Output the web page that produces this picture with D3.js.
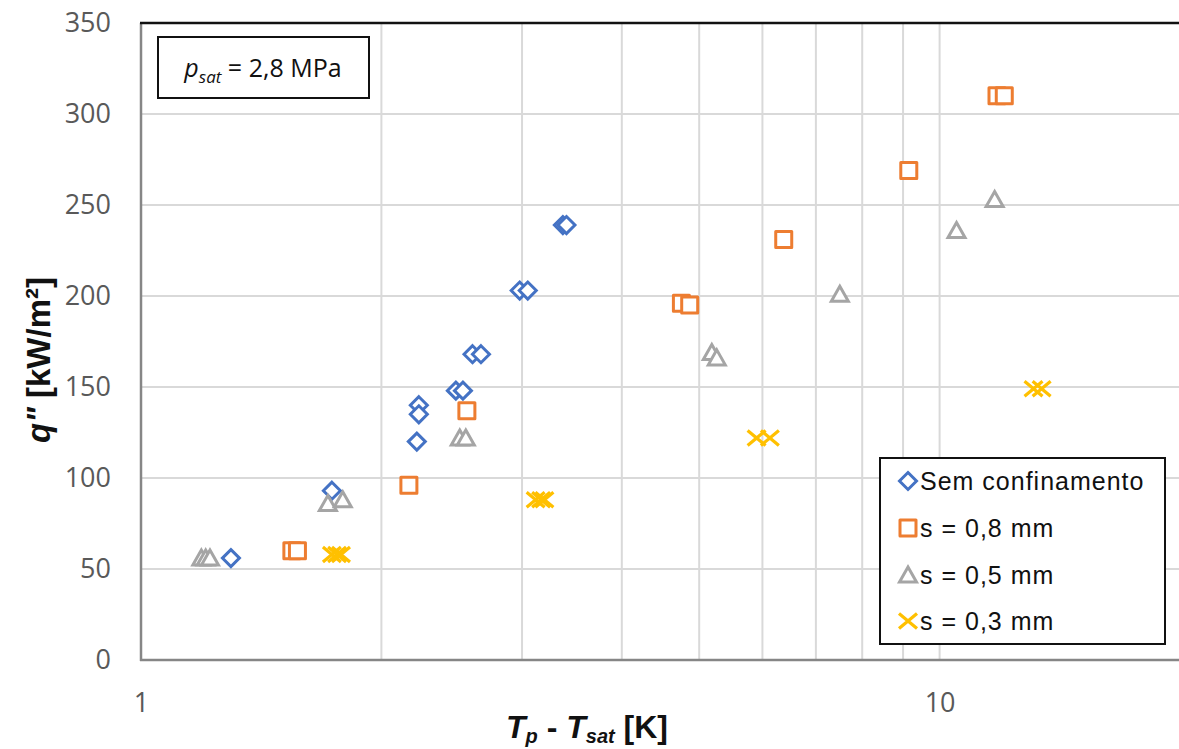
<!DOCTYPE html>
<html><head><meta charset="utf-8">
<script src="https://cdn.jsdelivr.net/npm/d3@7"></script>
<style>
html,body{margin:0;padding:0;background:#fff;}
svg{display:block;}
</style></head>
<body>
<svg id="chart" width="1179" height="749"></svg>
<script>
// ---- data ----
const xTickLabels = [1, 10];
const yTicks = [0, 50, 100, 150, 200, 250, 300, 350];
const seriesNames = ["Sem confinamento", "s = 0,8 mm", "s = 0,5 mm", "s = 0,3 mm"];

const semX = [1.296, 1.734, 2.228, 2.228, 2.215, 2.479, 2.53, 2.601, 2.665, 2.98, 3.05, 3.375, 3.41];
const semY = [56, 93, 140, 135, 120, 148, 148, 168, 168, 203, 203, 239, 239];

const s08X = [1.545, 1.57, 2.165, 2.559, 4.75, 4.865, 6.38, 9.15, 11.8, 12.05];
const s08Y = [60, 60, 96, 137, 196, 195, 231, 269, 310, 310];

const s05X = [1.19, 1.205, 1.22, 1.714, 1.789, 2.507, 2.551, 5.185, 5.26, 7.5, 10.5, 11.72];
const s05Y = [56, 56, 56, 86, 88, 122, 122, 169, 166, 201, 236, 253];

const s03X = [1.734, 1.76, 1.78, 3.12, 3.17, 3.2, 5.9, 6.13, 13.11, 13.42];
const s03Y = [58, 58, 58, 88, 88, 88, 122, 122, 149, 149];

// ---- layout ----
const svg = d3.select("#chart");
const L = 141, R = 1180, T = 23, B = 660;
const x = d3.scaleLog().domain([1, 20]).range([L, R]);
const y = d3.scaleLinear().domain([0, 350]).range([B, T]);

const colors = ["#4472C4", "#ED7D31", "#A5A5A5", "#FFC000"];
const tickFont = "'Open Sans', sans-serif";
const arial = "'Liberation Sans', Arial, sans-serif";
const narrow = "'Liberation Sans Narrow', 'Liberation Sans', Arial, sans-serif";

// grid
const minorVals = [2,3,4,5,6,7,8,9,10,20];
svg.append("g").selectAll("line").data(minorVals).join("line")
  .attr("x1", d => x(d)).attr("x2", d => x(d))
  .attr("y1", T).attr("y2", B)
  .attr("stroke", "#D9D9D9").attr("stroke-width", 2);
svg.append("g").selectAll("line").data(yTicks.slice(1)).join("line")
  .attr("x1", L).attr("x2", 1179)
  .attr("y1", d => y(d)).attr("y2", d => y(d))
  .attr("stroke", "#D9D9D9").attr("stroke-width", 2);

// axes lines
svg.append("line").attr("x1", L).attr("x2", L).attr("y1", T).attr("y2", B + 1)
  .attr("stroke", "#868686").attr("stroke-width", 2.5);
svg.append("line").attr("x1", L - 1).attr("x2", 1179).attr("y1", B).attr("y2", B)
  .attr("stroke", "#868686").attr("stroke-width", 2.5);
svg.append("line").attr("x1", L - 1).attr("x2", 1179).attr("y1", T).attr("y2", T)
  .attr("stroke", "#111").attr("stroke-width", 2.5);

// tick labels via axes
const yAxis = d3.axisLeft(y).tickValues(yTicks).tickSize(0).tickPadding(30).tickFormat(d3.format("d"));
const gy = svg.append("g").attr("transform", `translate(${L},0)`).call(yAxis);
gy.select(".domain").remove();
gy.selectAll("text").attr("font-family", tickFont).attr("font-size", 27).attr("fill", "#595959");

const xAxis = d3.axisBottom(x).tickValues(xTickLabels).tickSize(0).tickPadding(33).tickFormat(d3.format("d"));
const gx = svg.append("g").attr("transform", `translate(0,${B})`).call(xAxis);
gx.select(".domain").remove();
gx.selectAll("text").attr("font-family", tickFont).attr("font-size", 27).attr("fill", "#595959");

// marker paths
function markerPath(kind) {
  if (kind === 0) return "M0,-8.5L8.5,0L0,8.5L-8.5,0Z";
  if (kind === 1) return "M-8,-8H8V8H-8Z";
  if (kind === 2) return "M0,-8L8.5,7L-8.5,7Z";
  return "M-9,-7.5L9,7.5M-9,7.5L9,-7.5";
}
function drawMarker(g, kind, cx, cy) {
  g.append("path").attr("d", markerPath(kind))
    .attr("transform", `translate(${cx},${cy})`)
    .attr("fill", kind === 3 ? "none" : "#fff")
    .attr("stroke", colors[kind])
    .attr("stroke-width", kind === 3 ? 3.2 : 3)
    .attr("stroke-linejoin", kind === 1 ? "round" : "miter");
}

const series = [[semX, semY], [s08X, s08Y], [s05X, s05Y], [s03X, s03Y]];
const plotG = svg.append("g");
series.forEach((s, k) => {
  const g = plotG.append("g");
  s[0].forEach((xv, i) => drawMarker(g, k, x(xv), y(s[1][i])));
});

// annotation box
svg.append("rect").attr("x", 158).attr("y", 37).attr("width", 211).attr("height", 61)
  .attr("fill", "#fff").attr("stroke", "#111").attr("stroke-width", 2);
const ann = svg.append("text").attr("x", 263).attr("y", 77).attr("text-anchor", "middle")
  .attr("font-family", tickFont).attr("font-size", 25).attr("fill", "#111");
ann.append("tspan").attr("font-style", "italic").text("p");
ann.append("tspan").attr("font-style", "italic").attr("font-size", 17).attr("dy", 6).text("sat");
ann.append("tspan").attr("dy", -6).text(" = 2,8 MPa");

// legend
const lg = svg.append("g");
lg.append("rect").attr("x", 880).attr("y", 458).attr("width", 285).attr("height", 186)
  .attr("fill", "#fff").attr("stroke", "#111").attr("stroke-width", 2);
const rowsY = [481, 528, 575, 621];
seriesNames.forEach((n, k) => {
  const g = lg.append("g");
  drawMarker(g, k, 908, rowsY[k]);
  g.append("text").attr("x", 920).attr("y", rowsY[k] + 9)
    .attr("font-family", arial).attr("font-size", 25).attr("letter-spacing", 1)
    .attr("fill", "#111").text(n);
});

// axis titles
const yt = svg.append("text")
  .attr("transform", `translate(50,360) rotate(-90)`)
  .attr("text-anchor", "middle")
  .attr("font-family", narrow)
  .attr("font-weight", "bold").attr("font-size", 33).attr("fill", "#111");
yt.append("tspan").attr("font-style", "italic").text("q\"");
yt.append("tspan").text(" [kW/m²]");

const xt = svg.append("text").attr("x", 587).attr("y", 738).attr("text-anchor", "middle")
  .attr("font-family", narrow)
  .attr("font-weight", "bold").attr("font-size", 32).attr("fill", "#111");
xt.append("tspan").attr("font-style", "italic").text("T");
xt.append("tspan").attr("font-style", "italic").attr("font-size", 20).attr("dy", 5).text("p");
xt.append("tspan").attr("dy", -5).text(" - ");
xt.append("tspan").attr("font-style", "italic").text("T");
xt.append("tspan").attr("font-style", "italic").attr("font-size", 20).attr("dy", 5).text("sat");
xt.append("tspan").attr("dy", -5).text(" [K]");
</script>
</body></html>
